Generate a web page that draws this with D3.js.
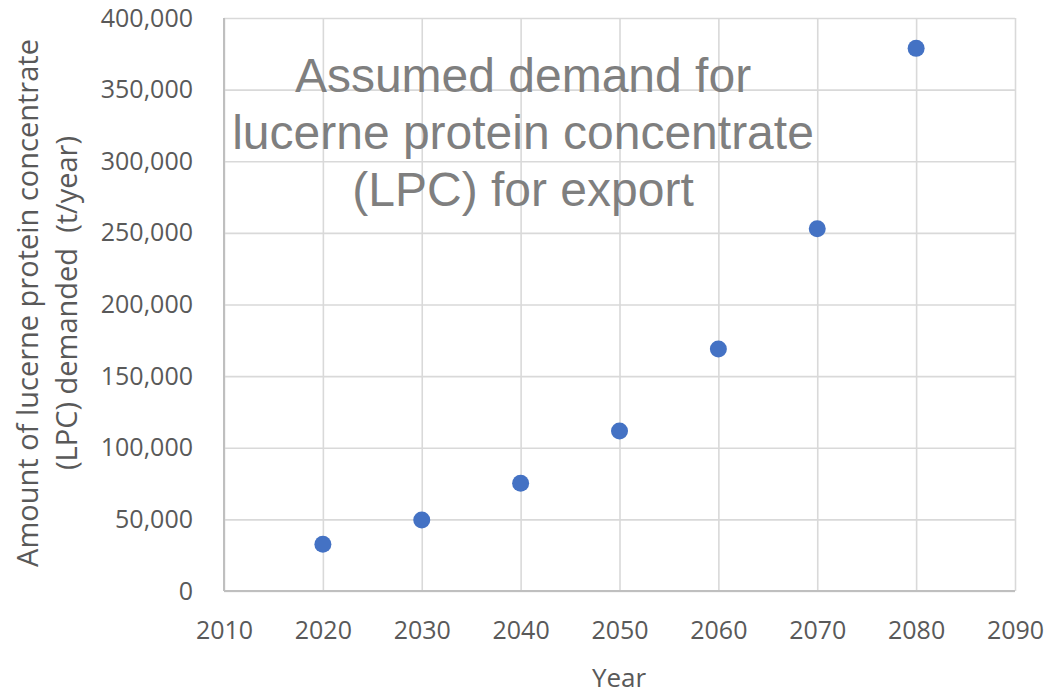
<!DOCTYPE html>
<html>
<head>
<meta charset="utf-8">
<script src="https://cdn.jsdelivr.net/npm/d3@7"></script>
<style>
  html, body { margin: 0; padding: 0; background: #fff; }
  svg { display: block; }
</style>
</head>
<body>
<svg id="chart" width="1054" height="694"></svg>
<script>
// Assumed export demand for lucerne protein concentrate (t/year)
const years = [2020, 2030, 2040, 2050, 2060, 2070, 2080];
const demand = [32600, 49600, 75200, 111700, 168900, 252900, 378800];
const xTicks = [2010, 2020, 2030, 2040, 2050, 2060, 2070, 2080, 2090];
const yTicks = [0, 50000, 100000, 150000, 200000, 250000, 300000, 350000, 400000];
const titleLines = ["Assumed demand for", "lucerne protein concentrate", "(LPC) for export"];
const yTitleLines = ["Amount of lucerne protein concentrate", "(LPC) demanded  (t/year)"];

const svg = d3.select("#chart");
const plotL = 224, plotR = 1015, plotT = 18, plotB = 591;

const x = d3.scaleLinear().domain([2010, 2090]).range([plotL, plotR]);
const y = d3.scaleLinear().domain([0, 400000]).range([plotB, plotT]);

const tickFont = "'Open Sans', sans-serif";
const tickColor = "#595959";

// gridlines
svg.append("g").attr("class", "ygrid")
  .attr("transform", `translate(${plotL},0)`)
  .call(d3.axisLeft(y).tickValues(yTicks).tickSize(-(plotR - plotL)).tickFormat(""))
  .call(g => g.select(".domain").remove())
  .call(g => g.selectAll("line").attr("stroke", "#d9d9d9").attr("stroke-width", 1.6));

svg.append("g").attr("class", "xgrid")
  .attr("transform", `translate(0,${plotB})`)
  .call(d3.axisBottom(x).tickValues(xTicks).tickSize(-(plotB - plotT)).tickFormat(""))
  .call(g => g.select(".domain").remove())
  .call(g => g.selectAll("line").attr("stroke", "#d9d9d9").attr("stroke-width", 1.6));

// axis lines
svg.append("line").attr("x1", plotL).attr("x2", plotR).attr("y1", plotB).attr("y2", plotB)
  .attr("stroke", "#bfbfbf").attr("stroke-width", 2);
svg.append("line").attr("x1", plotL).attr("x2", plotL).attr("y1", plotT).attr("y2", plotB)
  .attr("stroke", "#bfbfbf").attr("stroke-width", 2);

// tick labels
const fmt = d3.format(",");
svg.append("g").attr("class", "ylabels")
  .attr("transform", `translate(${plotL},0)`)
  .call(d3.axisLeft(y).tickValues(yTicks).tickSize(0).tickPadding(31).tickFormat(fmt))
  .call(g => g.select(".domain").remove())
  .call(g => g.selectAll("text")
    .attr("font-family", tickFont).attr("font-size", 25).attr("fill", tickColor));

svg.append("g").attr("class", "xlabels")
  .attr("transform", `translate(0,${plotB})`)
  .call(d3.axisBottom(x).tickValues(xTicks).tickSize(0).tickPadding(30).tickFormat(d3.format("d")))
  .call(g => g.select(".domain").remove())
  .call(g => g.selectAll("text")
    .attr("font-family", tickFont).attr("font-size", 25).attr("fill", tickColor));

// axis titles
svg.append("text")
  .attr("x", 619).attr("y", 687)
  .attr("text-anchor", "middle")
  .attr("font-family", tickFont).attr("font-size", 26).attr("fill", tickColor)
  .text("Year");

const yTitle = svg.append("text")
  .attr("transform", "translate(0,303) rotate(-90)")
  .attr("text-anchor", "middle")
  .attr("font-family", tickFont).attr("font-size", 29).attr("fill", tickColor);
yTitleLines.forEach((t, i) => {
  yTitle.append("tspan").attr("x", 0).attr("y", 38 + i * 39)
    .attr("xml:space", "preserve").style("white-space", "pre").text(t);
});

// in-plot title
const title = svg.append("text")
  .attr("text-anchor", "middle")
  .attr("font-family", "'Liberation Sans', Arial, sans-serif")
  .attr("font-size", 48).attr("fill", "#7f7f7f");
titleLines.forEach((t, i) => {
  title.append("tspan").attr("x", 523).attr("y", 92 + i * 57).text(t);
});

// data points
svg.append("g").attr("class", "points")
  .selectAll("circle")
  .data(years.map((yr, i) => ({ yr, v: demand[i] })))
  .join("circle")
  .attr("cx", d => x(d.yr))
  .attr("cy", d => y(d.v))
  .attr("r", 8.5)
  .attr("fill", "#4472c4");
</script>
</body>
</html>
